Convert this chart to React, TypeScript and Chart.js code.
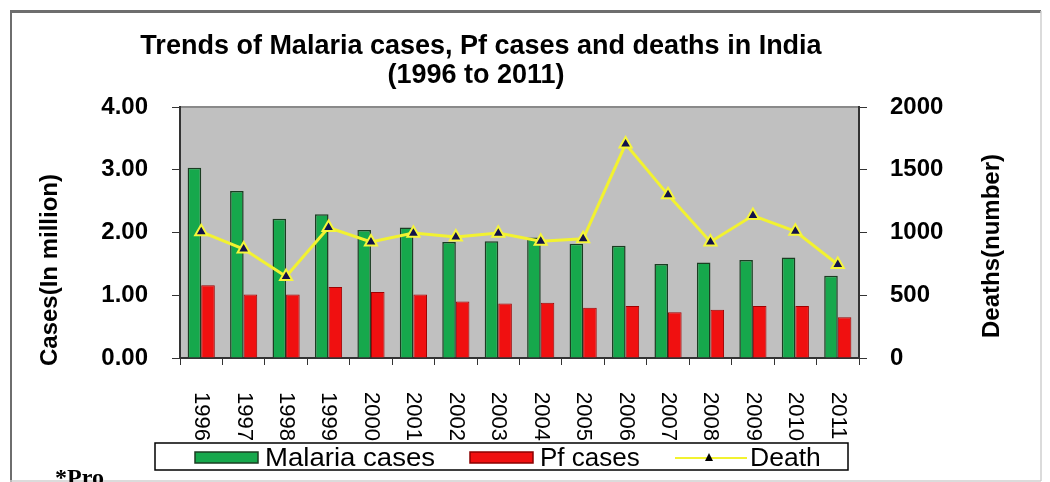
import React, { useEffect, useRef } from "react";
import { Chart, registerables } from "chart.js";

Chart.register(...registerables);

const years = ["1996", "1997", "1998", "1999", "2000", "2001", "2002", "2003", "2004", "2005", "2006", "2007", "2008", "2009", "2010", "2011"];
const malariaCases = [3.03, 2.66, 2.22, 2.29, 2.04, 2.08, 1.85, 1.86, 1.92, 1.82, 1.79, 1.50, 1.52, 1.56, 1.60, 1.31];
const pfCases = [1.16, 1.01, 1.01, 1.13, 1.05, 1.01, 0.90, 0.87, 0.88, 0.80, 0.83, 0.73, 0.77, 0.83, 0.83, 0.65];
const deaths = [1005, 868, 650, 1040, 925, 995, 965, 995, 930, 950, 1705, 1300, 925, 1135, 1010, 745];

const titleLines = ["Trends of Malaria cases, Pf cases and deaths in India", "(1996 to 2011)"];
const leftAxisTitle = "Cases(In million)";
const rightAxisTitle = "Deaths(number)";
const legendLabels = ["Malaria cases", "Pf cases", "Death"];
const footnote = "*Pro";

const SANS = "'Liberation Sans', Arial, sans-serif";

function wideText(ctx: any, text: string, x: number, y: number, sx: number) {
  ctx.save();
  ctx.translate(x, y);
  ctx.scale(sx, 1);
  ctx.fillText(text, 0, 0);
  ctx.restore();
}

const decor = {
  id: "decor",
  beforeDraw(chart: any) {
    const { ctx, chartArea: a } = chart;
    ctx.save();
    ctx.fillStyle = "#ffffff";
    ctx.fillRect(0, 0, chart.width, chart.height);
    ctx.fillStyle = "#c0c0c0";
    ctx.fillRect(a.left, a.top, a.right - a.left, a.bottom - a.top);
    ctx.strokeStyle = "#8a8a8a";
    ctx.lineWidth = 2;
    ctx.beginPath();
    ctx.moveTo(a.left, a.top);
    ctx.lineTo(a.right, a.top);
    ctx.stroke();
    ctx.restore();
  },
  afterDraw(chart: any) {
    const { ctx } = chart;
    const W = chart.width;
    const H = chart.height;
    ctx.save();
    // outer frame
    ctx.strokeStyle = "#6e6e6e";
    ctx.lineWidth = 3;
    ctx.beginPath();
    ctx.moveTo(2, 3.5);
    ctx.lineTo(W - 1, 3.5);
    ctx.stroke();
    ctx.lineWidth = 2;
    ctx.beginPath();
    ctx.moveTo(3, 2);
    ctx.lineTo(3, H);
    ctx.stroke();
    ctx.strokeStyle = "#cfcfcf";
    ctx.lineWidth = 1.5;
    ctx.beginPath();
    ctx.moveTo(W - 1, 3);
    ctx.lineTo(W - 1, H - 1);
    ctx.moveTo(2, H - 1);
    ctx.lineTo(W - 1, H - 1);
    ctx.stroke();

    // title
    ctx.fillStyle = "#000";
    ctx.textAlign = "center";
    ctx.textBaseline = "middle";
    ctx.font = `bold 27px ${SANS}`;
    ctx.fillText(titleLines[0], 473, 39);
    ctx.fillText(titleLines[1], 468, 68);

    // axis titles
    ctx.font = `bold 24px ${SANS}`;
    ctx.save();
    ctx.translate(42, 262);
    ctx.rotate(-Math.PI / 2);
    ctx.fillText(leftAxisTitle, 0, 0);
    ctx.restore();
    ctx.save();
    ctx.translate(984, 238);
    ctx.rotate(-Math.PI / 2);
    ctx.fillText(rightAxisTitle, 0, 0);
    ctx.restore();

    // x labels rotated clockwise
    const xs = chart.scales.x;
    ctx.font = `22px ${SANS}`;
    ctx.textAlign = "left";
    ctx.textBaseline = "middle";
    years.forEach((y, i) => {
      const px = xs.getPixelForValue(i);
      ctx.save();
      ctx.translate(px, 384);
      ctx.rotate(Math.PI / 2);
      ctx.fillText(y, 0, 0);
      ctx.restore();
    });

    // legend
    ctx.strokeStyle = "#000";
    ctx.lineWidth = 1.5;
    ctx.strokeRect(147, 435, 693, 27);
    ctx.fillStyle = "#16a84c";
    ctx.fillRect(187, 444, 63, 11);
    ctx.strokeStyle = "#1b3d22";
    ctx.lineWidth = 1.5;
    ctx.strokeRect(187, 444, 63, 11);
    ctx.fillStyle = "#f01010";
    ctx.fillRect(462, 444, 63, 11);
    ctx.strokeStyle = "#8a0000";
    ctx.strokeRect(462, 444, 63, 11);
    ctx.strokeStyle = "#f2f230";
    ctx.lineWidth = 2;
    ctx.beginPath();
    ctx.moveTo(667, 450);
    ctx.lineTo(739, 450);
    ctx.stroke();
    ctx.fillStyle = "#000";
    ctx.beginPath();
    ctx.moveTo(701, 445);
    ctx.lineTo(705, 453);
    ctx.lineTo(697, 453);
    ctx.closePath();
    ctx.fill();
    ctx.fillStyle = "#000";
    ctx.font = `26px ${SANS}`;
    ctx.textAlign = "left";
    ctx.textBaseline = "middle";
    wideText(ctx, legendLabels[0], 257, 451, 1.06);
    wideText(ctx, legendLabels[1], 532, 451, 1.0);
    wideText(ctx, legendLabels[2], 742, 451, 1.02);

    // footnote
    ctx.font = `bold 24px 'Liberation Serif', 'Times New Roman', serif`;
    ctx.textBaseline = "alphabetic";
    ctx.fillText(footnote, 47, 477);
    ctx.restore();
  },
};

export default function App() {
  const ref = useRef<HTMLCanvasElement | null>(null);
  useEffect(() => {
    if (!ref.current) return;
    const chart = new Chart(ref.current, {
      type: "bar",
      data: {
        labels: years,
        datasets: [
          {
            type: "line",
            label: legendLabels[2],
            data: deaths,
            yAxisID: "y1",
            borderColor: "#f2f230",
            borderWidth: 3,
            pointStyle: "triangle",
            pointRadius: 7,
            pointBackgroundColor: "#12124a",
            pointBorderColor: "#f6f63a",
            pointBorderWidth: 2,
            order: 0,
          } as any,
          {
            label: legendLabels[0],
            data: malariaCases,
            yAxisID: "y",
            backgroundColor: "#16a84c",
            borderColor: "#1b3d22",
            borderWidth: 1.5,
            categoryPercentage: 0.64,
            barPercentage: 1,
            order: 1,
          },
          {
            label: legendLabels[1],
            data: pfCases,
            yAxisID: "y",
            backgroundColor: "#f01010",
            borderColor: "#a00000",
            borderWidth: 1,
            categoryPercentage: 0.64,
            barPercentage: 1,
            order: 1,
          },
        ],
      },
      options: {
        animation: false,
        responsive: false,
        layout: { padding: { top: 99, left: 0, right: 0, bottom: 0 } },
        plugins: { legend: { display: false }, title: { display: false }, tooltip: { enabled: false } },
        scales: {
          x: {
            offset: true,
            grid: { display: true, drawOnChartArea: false, drawTicks: true, tickLength: 7, color: "#333", offset: true },
            border: { display: true, color: "#333", width: 2 },
            ticks: { display: false },
            afterFit: (s: any) => {
              s.height = 124;
              s.paddingLeft = 0;
              s.paddingRight = 0;
            },
          },
          y: {
            position: "left",
            min: 0,
            max: 4,
            ticks: {
              stepSize: 1,
              padding: 24,
              color: "#000",
              font: { family: SANS, size: 24, weight: "bold" },
              callback: (v: any) => Number(v).toFixed(2),
            },
            grid: { drawOnChartArea: false, drawTicks: true, tickLength: 8, color: "#333" },
            border: { display: true, color: "#333", width: 2 },
            afterFit: (s: any) => {
              s.width = 172;
              s.paddingTop = 0;
              s.paddingBottom = 0;
            },
          },
          y1: {
            position: "right",
            min: 0,
            max: 2000,
            ticks: {
              stepSize: 500,
              padding: 23,
              color: "#000",
              font: { family: SANS, size: 24, weight: "bold" },
              callback: (v: any) => String(v),
            },
            grid: { drawOnChartArea: false, drawTicks: true, tickLength: 8, color: "#333" },
            border: { display: true, color: "#333", width: 2 },
            afterFit: (s: any) => {
              s.width = 183;
              s.paddingTop = 0;
              s.paddingBottom = 0;
            },
          },
        },
      },
      plugins: [decor],
    });
    return () => chart.destroy();
  }, []);
  return (
    <div style={{ position: "relative", width: 1034, height: 474 }}>
      <canvas ref={ref} width={1034} height={474} style={{ display: "block" }} />
    </div>
  );
}
